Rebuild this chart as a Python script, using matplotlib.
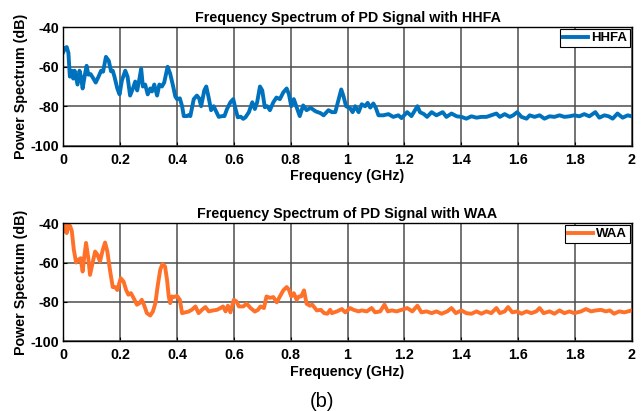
import numpy as np
import matplotlib
matplotlib.use("Agg")
import matplotlib.pyplot as plt

plt.rcParams['font.family'] = ['Liberation Sans', 'DejaVu Sans']
plt.rcParams['axes.unicode_minus'] = False  # MATLAB style "-40"

# --- HHFA spectrum (GHz, dB) ---
hhfa_f = [0.000, 0.006, 0.012, 0.018, 0.023, 0.030, 0.035, 0.040, 0.050, 0.057,
          0.062, 0.068, 0.076, 0.082, 0.088, 0.096, 0.106, 0.114, 0.124, 0.133,
          0.140, 0.150, 0.160, 0.168, 0.174, 0.180, 0.190, 0.198, 0.206, 0.218,
          0.226, 0.235, 0.245, 0.253, 0.260, 0.268, 0.274, 0.280, 0.288, 0.297,
          0.306, 0.312, 0.320, 0.330, 0.338, 0.347, 0.355, 0.367, 0.376, 0.386,
          0.394, 0.400, 0.410, 0.418, 0.424, 0.435, 0.441, 0.447, 0.459, 0.470,
          0.478, 0.485, 0.496, 0.503, 0.512, 0.520, 0.529, 0.539, 0.547, 0.559,
          0.567, 0.576, 0.588, 0.598, 0.606, 0.614, 0.624, 0.633, 0.641, 0.653,
          0.665, 0.674, 0.682, 0.692, 0.700, 0.709, 0.718, 0.727, 0.739, 0.750,
          0.762, 0.774, 0.786, 0.794, 0.802, 0.811, 0.823, 0.832, 0.844, 0.856,
          0.870, 0.888, 0.905, 0.916, 0.933, 0.945, 0.957, 0.968, 0.978, 0.986,
          0.995, 1.009, 1.018, 1.027, 1.039, 1.050, 1.062, 1.071, 1.080, 1.091,
          1.100, 1.109, 1.126, 1.144, 1.161, 1.179, 1.190, 1.210, 1.225, 1.246,
          1.255, 1.269, 1.280, 1.296, 1.313, 1.325, 1.335, 1.348, 1.366, 1.384,
          1.401, 1.418, 1.436, 1.454, 1.471, 1.489, 1.506, 1.524, 1.536, 1.553,
          1.571, 1.583, 1.597, 1.612, 1.630, 1.641, 1.658, 1.676, 1.693, 1.711,
          1.728, 1.746, 1.763, 1.781, 1.798, 1.816, 1.833, 1.851, 1.872, 1.886,
          1.904, 1.919, 1.933, 1.950, 1.968, 1.986, 2.000]
hhfa_db = [-52.5, -50.5, -50.0, -53.0, -65.0, -62.0, -66.0, -62.0, -69.0, -62.0,
           -65.0, -71.0, -64.0, -59.5, -64.0, -63.7, -66.0, -68.0, -65.0, -62.0,
           -62.5, -55.0, -57.0, -62.3, -62.0, -65.0, -71.0, -74.0, -67.0, -62.0,
           -65.0, -74.6, -71.0, -67.5, -72.0, -66.0, -61.0, -70.0, -69.0, -74.0,
           -71.0, -72.5, -69.0, -74.6, -69.0, -70.0, -68.0, -60.0, -63.5, -69.6,
           -75.0, -76.4, -76.0, -80.0, -85.0, -85.0, -84.5, -85.0, -76.4, -74.6,
           -76.0, -80.0, -72.0, -70.0, -76.0, -82.0, -80.0, -83.0, -85.4, -85.0,
           -85.0, -81.4, -78.0, -76.4, -81.4, -85.6, -85.3, -86.4, -85.6, -83.0,
           -78.0, -81.4, -78.0, -70.0, -72.0, -80.5, -80.0, -82.0, -78.0, -75.6,
           -76.4, -73.0, -71.0, -74.0, -80.0, -76.4, -81.4, -85.0, -79.6, -82.0,
           -80.8, -82.6, -83.5, -84.6, -82.0, -83.0, -83.0, -77.0, -71.5, -75.0,
           -80.0, -81.0, -83.0, -80.0, -83.0, -79.0, -80.0, -78.3, -80.7, -78.6,
           -81.0, -84.6, -84.6, -84.0, -85.4, -84.6, -86.0, -83.0, -85.0, -80.0,
           -83.0, -84.0, -85.4, -83.0, -84.6, -83.7, -83.0, -85.4, -83.7, -85.1,
           -85.4, -86.3, -85.1, -85.8, -85.4, -85.4, -84.6, -83.7, -85.4, -84.0,
           -85.4, -84.6, -83.0, -85.4, -86.3, -84.6, -85.4, -84.6, -86.3, -85.1,
           -85.4, -84.6, -85.4, -85.1, -84.6, -85.1, -84.0, -85.1, -83.0, -85.8,
           -84.6, -85.1, -86.3, -83.7, -85.8, -84.6, -85.1]

# --- WAA spectrum (GHz, dB) ---
waa_f = [0.000, 0.006, 0.012, 0.018, 0.024, 0.030, 0.037, 0.045, 0.053, 0.061,
         0.068, 0.073, 0.080, 0.088, 0.094, 0.104, 0.112, 0.120, 0.129, 0.139,
         0.147, 0.155, 0.165, 0.174, 0.182, 0.190, 0.202, 0.212, 0.221, 0.229,
         0.238, 0.247, 0.259, 0.268, 0.276, 0.285, 0.294, 0.306, 0.315, 0.324,
         0.332, 0.341, 0.349, 0.358, 0.365, 0.371, 0.376, 0.382, 0.390, 0.400,
         0.410, 0.418, 0.429, 0.441, 0.453, 0.465, 0.476, 0.488, 0.500, 0.512,
         0.527, 0.541, 0.553, 0.562, 0.571, 0.579, 0.588, 0.600, 0.609, 0.618,
         0.633, 0.645, 0.659, 0.674, 0.685, 0.694, 0.706, 0.715, 0.727, 0.739,
         0.751, 0.762, 0.774, 0.786, 0.794, 0.802, 0.811, 0.821, 0.829, 0.837,
         0.847, 0.856, 0.868, 0.876, 0.892, 0.906, 0.918, 0.929, 0.939, 0.945,
         0.963, 0.980, 0.992, 1.009, 1.021, 1.039, 1.050, 1.068, 1.085, 1.097,
         1.115, 1.130, 1.142, 1.156, 1.173, 1.190, 1.210, 1.228, 1.246, 1.260,
         1.278, 1.296, 1.313, 1.331, 1.351, 1.366, 1.381, 1.401, 1.418, 1.436,
         1.454, 1.471, 1.489, 1.506, 1.524, 1.536, 1.553, 1.565, 1.580, 1.597,
         1.612, 1.630, 1.647, 1.664, 1.676, 1.690, 1.711, 1.728, 1.746, 1.763,
         1.781, 1.798, 1.822, 1.839, 1.857, 1.874, 1.892, 1.909, 1.923, 1.938,
         1.956, 1.974, 2.000]
waa_db = [-44.0, -40.3, -45.0, -41.0, -41.4, -44.0, -53.5, -60.0, -58.6, -57.8,
          -64.6, -58.0, -50.0, -57.8, -66.3, -59.5, -54.4, -56.0, -59.5, -53.5,
          -49.8, -54.4, -64.6, -72.5, -72.5, -74.0, -68.0, -69.7, -74.0, -76.4,
          -75.6, -78.0, -81.5, -80.7, -79.0, -82.0, -85.8, -87.0, -85.0, -80.7,
          -72.0, -63.7, -60.7, -62.0, -68.8, -77.3, -80.7, -77.3, -77.6, -77.0,
          -79.0, -85.8, -85.4, -85.0, -84.0, -82.4, -85.8, -84.1, -82.7, -84.9,
          -84.4, -84.1, -83.2, -82.4, -84.9, -82.0, -85.4, -79.0, -79.8, -82.4,
          -82.4, -81.0, -83.2, -85.0, -84.1, -82.4, -83.2, -77.3, -78.0, -77.6,
          -80.3, -77.3, -74.2, -72.5, -73.9, -77.3, -75.6, -79.0, -77.3, -77.3,
          -74.2, -81.0, -82.0, -81.5, -84.4, -84.1, -85.8, -86.1, -84.1, -85.8,
          -84.9, -83.7, -85.4, -83.2, -84.1, -84.9, -84.4, -84.9, -83.2, -85.4,
          -84.9, -81.5, -84.9, -84.4, -84.9, -84.1, -83.2, -84.9, -82.0, -85.4,
          -84.9, -85.8, -84.9, -86.1, -84.9, -83.2, -85.8, -84.4, -85.8, -86.1,
          -84.9, -86.1, -84.9, -85.8, -83.2, -85.8, -84.9, -82.7, -85.4, -84.9,
          -86.1, -84.9, -85.8, -84.9, -83.2, -85.8, -84.9, -86.1, -84.4, -85.8,
          -84.9, -85.8, -84.9, -83.7, -84.9, -84.4, -84.1, -84.9, -84.4, -86.1,
          -84.9, -85.4, -84.4]

xticks = [0, 0.2, 0.4, 0.6, 0.8, 1, 1.2, 1.4, 1.6, 1.8, 2]
xtick_labels = ['0', '0.2', '0.4', '0.6', '0.8', '1', '1.2', '1.4', '1.6', '1.8', '2']
yticks = [-100, -80, -60, -40]

BLUE = '#0072BD'
ORANGE = '#FF7029'
FS = 10.3


def style_axes(ax, title):
    ax.set_xlim(0, 2)
    ax.set_ylim(-100, -40)
    ax.set_xticks(xticks)
    ax.set_xticklabels(xtick_labels)
    ax.set_yticks(yticks)
    ax.grid(True, color='#4d4d4d', linewidth=1.1)
    ax.set_axisbelow(True)
    ax.tick_params(direction='in', length=3, width=0.8, labelsize=FS, pad=3)
    ax.tick_params(axis='x', pad=5)
    for lab in ax.get_xticklabels() + ax.get_yticklabels():
        lab.set_fontweight('bold')
    for sp in ax.spines.values():
        sp.set_linewidth(1.0)
        sp.set_color('black')
    ax.set_title(title, fontsize=FS, fontweight='bold', pad=4)
    ax.set_xlabel('Frequency (GHz)', fontsize=FS, fontweight='bold', labelpad=2)
    ax.set_ylabel('Power Spectrum (dB)', fontsize=FS, fontweight='bold', labelpad=2)


def add_legend(ax):
    leg = ax.legend(loc='upper right', fancybox=False, framealpha=1,
                    edgecolor='black', borderpad=0.2, handlelength=1.9,
                    handletextpad=0.25, borderaxespad=0.15,
                    prop={'size': FS - 0.8, 'weight': 'bold'})
    leg.get_frame().set_linewidth(0.8)


fig = plt.figure(figsize=(6.44, 4.11), dpi=100)
ax1 = fig.add_axes([0.0983, 0.6455, 0.8826, 0.2881])
ax2 = fig.add_axes([0.0983, 0.1703, 0.8826, 0.2864])

ax1.plot(hhfa_f, hhfa_db, color=BLUE, linewidth=2.8, label='HHFA')
style_axes(ax1, 'Frequency Spectrum of PD Signal with HHFA')
add_legend(ax1)

ax2.plot(waa_f, waa_db, color=ORANGE, linewidth=2.8, label='WAA')
style_axes(ax2, 'Frequency Spectrum of PD Signal with WAA')
add_legend(ax2)

fig.text(0.5, 0.024, '(b)', ha='center', va='center', fontsize=14.5)

fig.savefig('out.png', dpi=100)
